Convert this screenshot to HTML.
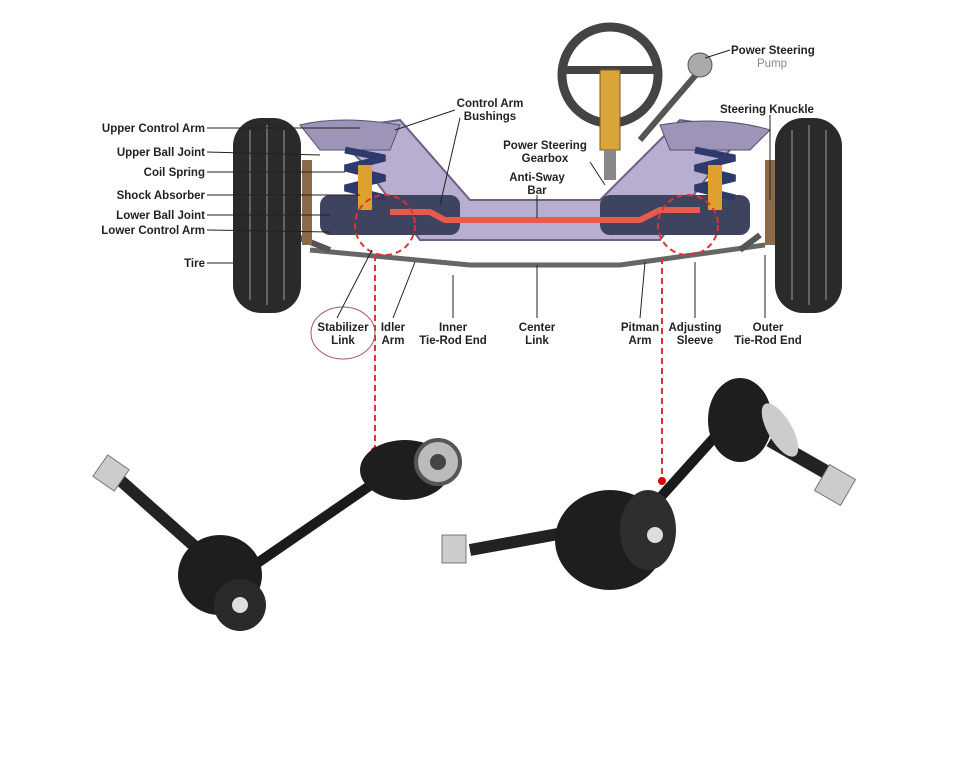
<!DOCTYPE html>
<html><head><meta charset="utf-8"><style>
body{margin:0;background:#fff;width:959px;height:768px;overflow:hidden}
svg text{font-family:"Liberation Sans",sans-serif;font-weight:bold;font-size:11.5px;fill:#222}
</style></head><body>
<svg width="959" height="768" viewBox="0 0 959 768" xmlns="http://www.w3.org/2000/svg">
<!-- steering wheel -->
<circle cx="610" cy="75" r="48" fill="none" stroke="#444" stroke-width="9"/>
<path d="M565 70 L655 70" stroke="#444" stroke-width="8"/>
<rect x="600" y="70" width="20" height="80" fill="#d9a53a" stroke="#7a5a20"/>
<rect x="604" y="150" width="12" height="30" fill="#888"/>
<path d="M640 140 L700 70" stroke="#555" stroke-width="6"/>
<circle cx="700" cy="65" r="12" fill="#aaa" stroke="#555"/>
<!-- frame -->
<path d="M330 130 L400 120 L470 200 L600 200 L680 120 L750 130 L720 160 L660 240 L420 240 L360 160 Z" fill="#b8aed0" stroke="#6a5f85" stroke-width="2"/>
<path d="M300 125 Q340 115 400 125 L390 150 L320 150 Z" fill="#9d94b8" stroke="#5a4f75"/>
<path d="M660 125 Q720 115 770 130 L750 150 L670 150 Z" fill="#9d94b8" stroke="#5a4f75"/>
<rect x="320" y="195" width="140" height="40" rx="10" fill="#3e4460"/>
<rect x="600" y="195" width="150" height="40" rx="10" fill="#3e4460"/>
<!-- springs -->
<g stroke="#2e3a6a" stroke-width="7" fill="none">
<path d="M345 150 L385 158 L345 168 L385 178 L345 188 L385 198"/>
<path d="M695 150 L735 158 L695 168 L735 178 L695 188 L735 198"/>
</g>
<rect x="358" y="165" width="14" height="45" fill="#e0a030"/>
<rect x="708" y="165" width="14" height="45" fill="#e0a030"/>
<!-- anti-sway bar -->
<path d="M390 212 L430 212 L445 220 L640 220 L660 210 L700 210" stroke="#e85a4a" stroke-width="6" fill="none"/>
<!-- tie rods -->
<path d="M310 250 L470 265 L620 265 L765 245" stroke="#666" stroke-width="5" fill="none"/>
<path d="M300 238 L330 250 M760 235 L740 250" stroke="#555" stroke-width="6"/>
<!-- knuckles -->
<rect x="302" y="160" width="10" height="85" fill="#8a6a4a"/>
<rect x="765" y="160" width="10" height="85" fill="#8a6a4a"/>
<!-- tires -->
<rect x="233" y="118" width="68" height="195" rx="28" fill="#2a2a2a"/>
<rect x="775" y="118" width="67" height="195" rx="28" fill="#2a2a2a"/>
<g stroke="#777" stroke-width="1.5">
<path d="M250 130 L250 300 M267 125 L267 305 M284 130 L284 300"/>
<path d="M792 130 L792 300 M809 125 L809 305 M826 130 L826 300"/>
</g>
<!-- red circles & dashed lines -->
<g stroke="#d33" stroke-width="2" stroke-dasharray="6,4" fill="none">
<circle cx="385" cy="225" r="30"/>
<circle cx="688" cy="225" r="30"/>
<path d="M375 255 L375 450"/>
<path d="M662 258 L662 480"/>
</g>
<circle cx="375" cy="451" r="4" fill="#d00"/>
<circle cx="662" cy="481" r="4" fill="#d00"/>
<ellipse cx="343" cy="333" rx="32" ry="26" fill="none" stroke="#a55" stroke-width="1"/>
<!-- leader lines -->
<g stroke="#222" stroke-width="1">
<path d="M207 128 L360 128 M207 152 L320 155 M207 172 L345 172 M207 195 L360 195 M207 215 L330 215 M207 230 L330 232 M207 263 L233 263"/>
<path d="M455 110 L395 130 M460 118 L440 205"/>
<path d="M590 162 L605 185 M537 195 L537 218"/>
<path d="M730 50 L705 58 M770 115 L770 200"/>
<path d="M337 318 L372 250 M393 318 L415 262 M453 318 L453 275 M537 318 L537 265 M640 318 L645 262 M695 318 L695 262 M765 318 L765 255"/>
</g>
<!-- labels -->
<g text-anchor="end">
<text x="205" y="132">Upper Control Arm</text>
<text x="205" y="156">Upper Ball Joint</text>
<text x="205" y="176">Coil Spring</text>
<text x="205" y="199">Shock Absorber</text>
<text x="205" y="219">Lower Ball Joint</text>
<text x="205" y="234">Lower Control Arm</text>
<text x="205" y="267">Tire</text>
</g>
<g text-anchor="middle">
<text x="490" y="107">Control Arm</text><text x="490" y="120">Bushings</text>
<text x="545" y="149">Power Steering</text><text x="545" y="162">Gearbox</text>
<text x="537" y="181">Anti-Sway</text><text x="537" y="194">Bar</text>
<text x="343" y="331">Stabilizer</text><text x="343" y="344">Link</text>
<text x="393" y="331">Idler</text><text x="393" y="344">Arm</text>
<text x="453" y="331">Inner</text><text x="453" y="344">Tie-Rod End</text>
<text x="537" y="331">Center</text><text x="537" y="344">Link</text>
<text x="640" y="331">Pitman</text><text x="640" y="344">Arm</text>
<text x="695" y="331">Adjusting</text><text x="695" y="344">Sleeve</text>
<text x="768" y="331">Outer</text><text x="768" y="344">Tie-Rod End</text>
</g>
<text x="731" y="54">Power Steering</text>
<text x="757" y="67" style="fill:#888;font-weight:normal">Pump</text>
<text x="720" y="113">Steering Knuckle</text>
<!-- left link part -->
<path d="M120 480 L210 560" stroke="#222" stroke-width="12"/>
<rect x="98" y="460" width="26" height="26" fill="#ccc" stroke="#777" transform="rotate(35 111 473)"/>
<path d="M240 575 L400 465" stroke="#1a1a1a" stroke-width="10"/>
<ellipse cx="220" cy="575" rx="42" ry="40" fill="#1e1e1e"/>
<ellipse cx="240" cy="605" rx="26" ry="26" fill="#2a2a2a"/>
<circle cx="240" cy="605" r="8" fill="#ddd"/>
<ellipse cx="405" cy="470" rx="45" ry="30" fill="#1e1e1e"/>
<circle cx="438" cy="462" r="22" fill="#bbb" stroke="#555" stroke-width="4"/>
<circle cx="438" cy="462" r="8" fill="#444"/>
<!-- right link part -->
<path d="M470 550 L580 530" stroke="#222" stroke-width="12"/>
<rect x="442" y="535" width="24" height="28" fill="#ccc" stroke="#777"/>
<path d="M640 520 L730 420" stroke="#1a1a1a" stroke-width="10"/>
<ellipse cx="610" cy="540" rx="55" ry="50" fill="#1e1e1e"/>
<ellipse cx="648" cy="530" rx="28" ry="40" fill="#2e2e2e"/>
<circle cx="655" cy="535" r="8" fill="#ddd"/>
<ellipse cx="740" cy="420" rx="32" ry="42" fill="#1e1e1e"/>
<path d="M770 440 L840 480" stroke="#222" stroke-width="14"/>
<ellipse cx="780" cy="430" rx="12" ry="30" fill="#ccc" transform="rotate(-30 780 430)"/>
<rect x="820" y="470" width="30" height="30" fill="#ccc" stroke="#777" transform="rotate(30 835 485)"/>
</svg>
</body></html>
